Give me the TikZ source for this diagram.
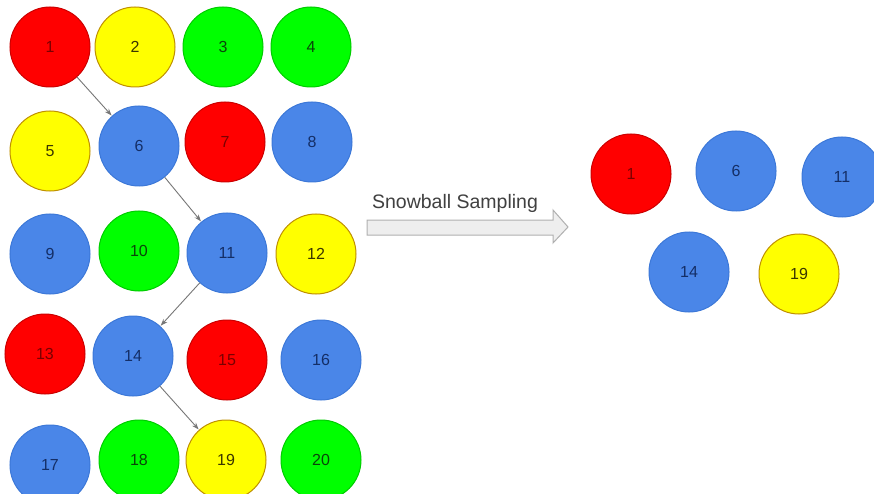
\documentclass[tikz,border=0pt]{standalone}
\usepackage{fontspec}
\setmainfont{Liberation Sans}
\usetikzlibrary{arrows.meta}
\definecolor{cred}{HTML}{FF0000}
\definecolor{cyel}{HTML}{FFFF00}
\definecolor{cgrn}{HTML}{00FF00}
\definecolor{cblu}{HTML}{4A86E8}
\definecolor{bred}{HTML}{CC0000}
\definecolor{byel}{HTML}{BF9000}
\definecolor{bgrn}{HTML}{00CC00}
\definecolor{bblu}{HTML}{3C78D8}
\definecolor{tred}{HTML}{7A0000}
\definecolor{tyel}{HTML}{3A3600}
\definecolor{tgrn}{HTML}{0A450A}
\definecolor{tblu}{HTML}{142E66}
\definecolor{linkgray}{HTML}{777777}
\definecolor{bigfill}{HTML}{EEEEEE}
\definecolor{bigdraw}{HTML}{B0B0B0}
\tikzset{
  ball/.style={circle, minimum size=80pt, inner sep=0pt, line width=1pt,
    font=\fontsize{16}{16}\selectfont},
  redball/.style={ball, fill=cred, draw=bred, text=tred},
  yelball/.style={ball, fill=cyel, draw=byel, text=tyel},
  grnball/.style={ball, fill=cgrn, draw=bgrn, text=tgrn},
  bluball/.style={ball, fill=cblu, draw=bblu, text=tblu},
  link/.style={draw=linkgray, line width=0.9pt, -{Stealth[length=7pt,width=5pt]}, shorten >=0.5pt},
  bigarrow/.style={fill=bigfill, draw=bigdraw, line width=1pt, line join=miter}
}
\begin{document}
\begin{tikzpicture}[x=1pt,y=-1pt]
\useasboundingbox (0,0) rectangle (874,494);
\fill[white] (0,0) rectangle (874,494);
\clip (0,0) rectangle (874,494);
% left grid
\node[redball] (n1) at (50,47) {1};
\node[yelball] (n2) at (135,47) {2};
\node[grnball] (n3) at (223,47) {3};
\node[grnball] (n4) at (311,47) {4};
\node[yelball] (n5) at (50,151) {5};
\node[bluball] (n6) at (139,146) {6};
\node[redball] (n7) at (225,142) {7};
\node[bluball] (n8) at (312,142) {8};
\node[bluball] (n9) at (50,254) {9};
\node[grnball] (n10) at (139,251) {10};
\node[bluball] (n11) at (227,253) {11};
\node[yelball] (n12) at (316,254) {12};
\node[redball] (n13) at (45,354) {13};
\node[bluball] (n14) at (133,356) {14};
\node[redball] (n15) at (227,360) {15};
\node[bluball] (n16) at (321,360) {16};
\node[bluball] (n17) at (50,465) {17};
\node[grnball] (n18) at (139,460) {18};
\node[yelball] (n19) at (226,460) {19};
\node[grnball] (n20) at (321,460) {20};
% snowball links
\draw[link] (n1) -- (n6);
\draw[link] (n6) -- (n11);
\draw[link] (n11) -- (n14);
\draw[link] (n14) -- (n19);
% big arrow
\draw[bigarrow] (367,220) -- (553,220) -- (553,210) -- (568,227) -- (553,243) -- (553,235) -- (367,235) -- cycle;
\node[text=black!75, font=\fontsize{19.5}{19.5}\selectfont, anchor=base] (lbl) at (455,208) {Snowball Sampling};
% sample
\node[redball] (r1) at (631,174) {1};
\node[bluball] (r6) at (736,171) {6};
\node[bluball] (r11) at (842,177) {11};
\node[bluball] (r14) at (689,272) {14};
\node[yelball] (r19) at (799,274) {19};
\end{tikzpicture}
\end{document}
